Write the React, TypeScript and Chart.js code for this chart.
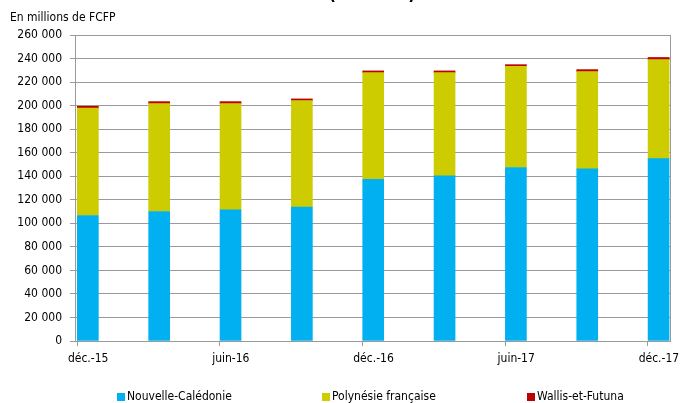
import React, { useEffect, useRef } from "react";
import { Chart, registerables } from "chart.js";

Chart.register(...registerables);

const categories = ["déc.-15", "mars-16", "juin-16", "sept.-16", "déc.-16", "mars-17", "juin-17", "sept.-17", "déc.-17"];
const xTickLabels = ["déc.-15", "juin-16", "déc.-16", "juin-17", "déc.-17"];
const nouvelleCaledonie = [106600, 110000, 111500, 113800, 137400, 140300, 147400, 146300, 154900];
const polynesieFrancaise = [91400, 91700, 90200, 90500, 90600, 87700, 86000, 82600, 84200];
const wallisEtFutuna = [1400, 1700, 1700, 1400, 1500, 1500, 1400, 1700, 1800];
const seriesNames = ["Nouvelle-Calédonie", "Polynésie française", "Wallis-et-Futuna"];
const seriesColors = ["#00B0F0", "#CCCC00", "#C00000"];
const yAxisTitle = "En millions de FCFP";
const chartTitle = "(encours)";

const FONT = "'DejaVu Sans Condensed', 'DejaVu Sans', sans-serif";
const GRID = "#9a9a9a";

const fmt = (v: number) => String(v).replace(/\B(?=(\d{3})+(?!\d))/g, " ");

export default function App() {
  const ref = useRef<HTMLCanvasElement | null>(null);
  useEffect(() => {
    document.body.style.margin = "0";
    const canvas = ref.current!;
    const series = [nouvelleCaledonie, polynesieFrancaise, wallisEtFutuna];
    const extras = {
      id: "extras",
      afterDraw(chart: any) {
        const ctx = chart.ctx;
        const ca = chart.chartArea;
        ctx.save();
        ctx.strokeStyle = GRID;
        ctx.lineWidth = 1;
        ctx.beginPath();
        ctx.moveTo(Math.round(ca.right) + 0.5, ca.top);
        ctx.lineTo(Math.round(ca.right) + 0.5, ca.bottom);
        ctx.stroke();
        ctx.fillStyle = "#000";
        ctx.font = `bold 18px ${FONT}`;
        ctx.textAlign = "center";
        ctx.textBaseline = "alphabetic";
        ctx.fillText(chartTitle, 372, 0);
        ctx.font = `12px ${FONT}`;
        ctx.textAlign = "left";
        ctx.textBaseline = "middle";
        ctx.fillText(yAxisTitle, 10, 18);
        const xs = [117, 322, 527];
        chart.data.datasets.forEach((ds: any, i: number) => {
          ctx.fillStyle = ds.backgroundColor;
          ctx.fillRect(xs[i], 393, 8, 8);
          ctx.fillStyle = "#000";
          ctx.fillText(ds.label, xs[i] + 10, 397);
        });
        ctx.restore();
      },
    };
    const chart = new Chart(canvas, {
      type: "bar",
      data: {
        datasets: series.map((arr, i) => ({
          label: seriesNames[i],
          data: arr.map((v, j) => ({ x: j, y: v })),
          backgroundColor: seriesColors[i],
          barThickness: 21,
        })),
      },
      options: {
        animation: false,
        responsive: false,
        maintainAspectRatio: false,
        layout: { padding: { top: 35, right: 13, left: 0, bottom: 0 } },
        plugins: { legend: { display: false }, tooltip: { enabled: false }, title: { display: false } },
        scales: {
          x: {
            type: "linear",
            stacked: true,
            offset: false,
            min: -0.18,
            max: 8.16,
            afterBuildTicks: (scale: any) => {
              scale.ticks = xTickLabels.map((_, k) => ({ value: k * 2 - 0.15 }));
            },
            afterFit: (scale: any) => {
              scale.height = 62;
            },
            grid: { drawOnChartArea: false, drawTicks: true, tickLength: 5, color: GRID, offset: false },
            border: { display: true, color: GRID },
            ticks: {
              autoSkip: false,
              maxRotation: 0,
              labelOffset: 11,
              padding: 6,
              color: "#000",
              font: { family: FONT, size: 12 },
              callback: (_v: any, i: number) => xTickLabels[i],
            },
          },
          y: {
            stacked: true,
            min: 0,
            max: 260000,
            afterFit: (scale: any) => {
              scale.width = 75;
            },
            grid: { color: GRID, tickLength: 5 },
            border: { display: true, color: GRID },
            ticks: {
              stepSize: 20000,
              padding: 8,
              color: "#000",
              font: { family: FONT, size: 12 },
              callback: (v: any) => fmt(Number(v)),
            },
          },
        },
      },
      plugins: [extras],
    });
    return () => chart.destroy();
  }, []);
  return (
    <div style={{ width: 683, height: 403 }}>
      <canvas ref={ref} width={683} height={403} style={{ display: "block" }} />
    </div>
  );
}
